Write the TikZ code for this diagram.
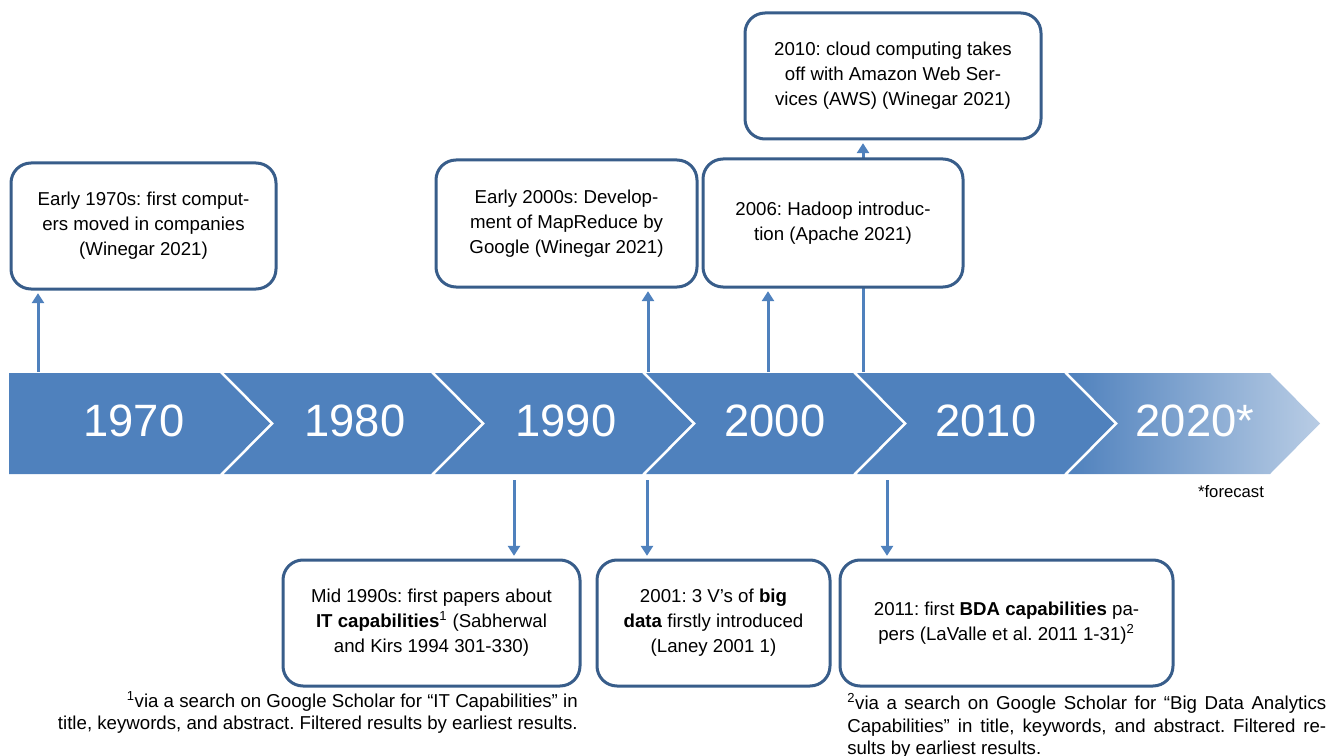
\documentclass[tikz,border=0pt]{standalone}
\usepackage{fontspec}
\setmainfont{Liberation Sans}
\usepackage{xcolor}
\usepackage{tikz}
\usetikzlibrary{arrows.meta,calc,positioning}
\definecolor{tlblue}{RGB}{79,129,189}
\definecolor{tlframe}{RGB}{56,93,138}
\frenchspacing

\begin{document}
\begin{tikzpicture}[x=0.75pt,y=0.75pt,yscale=-1,xscale=1,
  evbox/.style={draw=tlframe, line width=2.25pt, fill=white, rounded corners=15pt, align=center, inner sep=0pt, font=\fontsize{14}{18.8}\selectfont},
  tlarrow/.style={draw=tlblue, line width=2.25pt, -{Triangle[length=7.5pt,width=9pt]}, shorten >=2pt},
  yearlbl/.style={text=white, inner sep=0pt, font=\fontsize{34}{40}\selectfont},
  notetext/.style={inner sep=0pt, font=\fontsize{14}{17}\selectfont}]
\useasboundingbox (0,0) rectangle (1336,756);

%Shape: Chevron band
\fill[tlblue] (9,373) -- (220,373) -- (270,423.5) -- (220,474) -- (9,474) -- cycle;
\foreach \k in {1,...,4}
  \fill[tlblue] ({211*\k+13},373) -- ({211*\k+220},373) -- ({211*\k+270},423.5) -- ({211*\k+220},474) -- ({211*\k+13},474) -- ({211*\k+63},423.5) -- cycle;
%Shape: last chevron, fading out
\shade[left color=tlblue, middle color=tlblue!80, right color=tlblue!40] (1068,373) -- (1270,373) -- (1320,423.5) -- (1270,474) -- (1068,474) -- (1118,423.5) -- cycle;

% Text Node
\node[yearlbl] (y1970) at (134,421) {1970};
\node[yearlbl] (y1980) at (355,421) {1980};
\node[yearlbl] (y1990) at (566,421) {1990};
\node[yearlbl] (y2000) at (775,421) {2000};
\node[yearlbl] (y2010) at (986,421) {2010};
\node[yearlbl] (y2020) at (1195,421) {2020*};
\node[notetext, font=\fontsize{12.5}{15}\selectfont] (forecast) at (1231,492) {*forecast};

%Shape: events above the band
\node[evbox, minimum width=198.75pt, minimum height=94.5pt] (early70) at (143.5,226) {Early 1970s: first comput-\\ers moved in companies\\(Winegar 2021)};
\node[evbox, minimum width=195.75pt, minimum height=95.25pt] (mapreduce) at (566.5,223.5) {Early 2000s: Develop-\\ment of MapReduce by\\Google (Winegar 2021)};
\node[evbox, minimum width=222pt, minimum height=94.5pt] (cloud) at (893,76) {2010: cloud computing takes\\off with Amazon Web Ser-\\vices (AWS) (Winegar 2021)};

%Shape: events below the band
\node[evbox, minimum width=222.75pt, minimum height=94.5pt] (itcap) at (431.5,623) {Mid 1990s: first papers about\\\textbf{IT capabilities}\textsuperscript{1} (Sabherwal\\and Kirs 1994 301-330)};
\node[evbox, minimum width=174.75pt, minimum height=94.5pt] (threev) at (713.5,623) {2001: 3 V’s of \textbf{big}\\\textbf{data} firstly introduced\\(Laney 2001 1)};
\node[evbox, minimum width=249.75pt, minimum height=94.5pt] (bdacap) at (1006.5,623) {2011: first \textbf{BDA capabilities} pa-\\pers (LaValle et al. 2011 1-31)\textsuperscript{2}};

% Connector starts on the band
\coordinate (s70) at (38,372);
\coordinate (s00) at (648,372);
\coordinate (s06) at (768,372);
\coordinate (s10) at (863,372);
\coordinate (d90) at (514,480);
\coordinate (d01) at (647,480);
\coordinate (d11) at (887,480);

%Straight Lines: runs behind the Hadoop box
\draw[tlarrow] (s10) -- (s10 |- cloud.south);
\node[evbox, minimum width=195pt, minimum height=96pt] (hadoop) at (833,223) {2006: Hadoop introduc-\\tion (Apache 2021)};

%Straight Lines
\draw[tlarrow] (s70) -- (s70 |- early70.south);
\draw[tlarrow] (s00) -- (s00 |- mapreduce.south);
\draw[tlarrow] (s06) -- (s06 |- hadoop.south);
\draw[tlarrow] (d90) -- (d90 |- itcap.north);
\draw[tlarrow] (d01) -- (d01 |- threev.north);
\draw[tlarrow] (d11) -- (d11 |- bdacap.north);

% Text Node: footnotes
\node[notetext, anchor=north east, align=right] (note1) at (578,691) {\textsuperscript{1}via a search on Google Scholar for “IT Capabilities” in\\title, keywords, and abstract. Filtered results by earliest results.};
\node[notetext, anchor=north west, text width=359.25pt, align=justify] (note2) at (847,693) {\textsuperscript{2}via a search on Google Scholar for “Big Data Analytics\linebreak Capabilities” in title, keywords, and abstract. Filtered re-\linebreak sults by earliest results.};

\end{tikzpicture}
\end{document}
